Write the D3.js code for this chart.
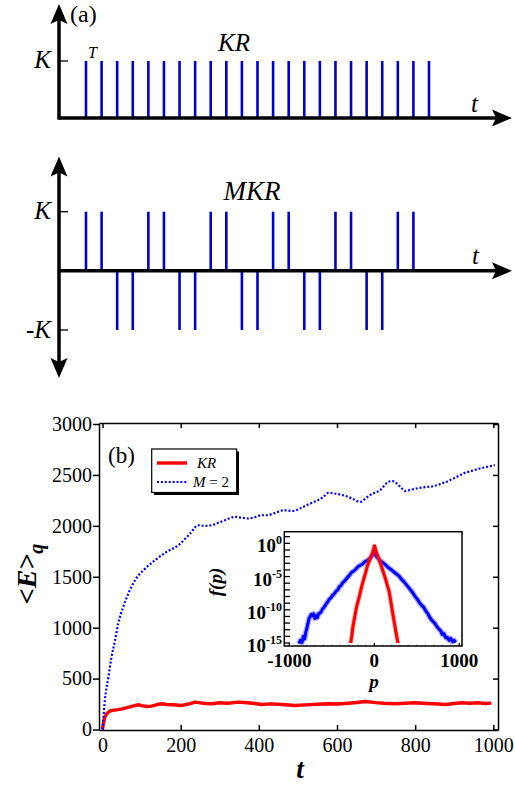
<!DOCTYPE html>
<html>
<head>
<meta charset="utf-8">
<script src="https://cdn.jsdelivr.net/npm/d3@7"></script>
<style>
  body { margin: 0; background: #fff; }
</style>
</head>
<body>
<script>
'use strict';

// ---- panel (a): kick sequences ----
const kickIndex = [1, 2, 3, 4, 5, 6, 7, 8, 9, 10, 11, 12, 13, 14, 15, 16, 17, 18, 19, 20, 21, 22, 23];
const mkrSigns = [1, 1, -1, -1, 1, 1, -1, -1, 1, 1, -1, -1, 1, 1, -1, -1, 1, 1, -1, -1, 1, 1];

// ---- panel (b): <E>_q versus t ----
const krT = [0, 3, 6, 10, 15, 20, 30, 40, 50, 60, 70, 80, 92, 100, 113, 125, 140, 151, 165, 180, 203, 220, 237, 250, 265, 279, 300, 320, 348, 370, 390, 407, 430, 460, 492, 520, 550, 578, 600, 630, 650, 672, 700, 720, 748, 775, 800, 830, 860, 877, 900, 919, 940, 960, 980, 995];
const krE = [5, 70, 121, 150, 170, 182, 190, 195, 203, 212, 222, 232, 243, 235, 226, 230, 245, 253, 245, 243, 236, 250, 269, 262, 255, 253, 262, 258, 269, 262, 255, 246, 252, 245, 236, 242, 248, 253, 250, 258, 265, 275, 264, 258, 253, 258, 262, 255, 250, 246, 255, 262, 258, 262, 255, 259];

const mkrT = [0, 6, 15, 23, 32, 40, 53, 66, 83, 109, 134, 164, 194, 224, 245, 262, 279, 296, 313, 339, 356, 373, 390, 407, 420, 440, 463, 488, 510, 531, 550, 565, 578, 597, 616, 638, 659, 672, 684, 697, 710, 720, 731, 742, 753, 763, 774, 790, 804, 825, 846, 868, 889, 906, 923, 945, 966, 985, 1004];
const mkrE = [0, 285, 515, 711, 875, 1039, 1203, 1334, 1465, 1580, 1662, 1744, 1809, 1924, 2006, 2000, 2006, 2030, 2055, 2088, 2080, 2072, 2085, 2104, 2104, 2125, 2153, 2146, 2180, 2219, 2250, 2284, 2324, 2315, 2301, 2270, 2235, 2265, 2301, 2325, 2350, 2390, 2432, 2440, 2416, 2380, 2343, 2355, 2367, 2380, 2389, 2415, 2448, 2480, 2514, 2540, 2563, 2580, 2596];

const mainXTicks = [0, 200, 400, 600, 800, 1000];
const mainYTicks = [0, 500, 1000, 1500, 2000, 2500, 3000];

// ---- inset: f(p), stored as log10 f ----
const blueP = [-886, -870, -850, -835, -820, -805, -795, -788, -778, -768, -755, -742, -729, -712, -700, -685, -671, -655, -631, -610, -590, -570, -553, -530, -510, -490, -474, -450, -430, -410, -395, -370, -345, -320, -298, -270, -245, -219, -190, -165, -141, -115, -90, -62, -35, -15, 0, 15, 40, 75, 100, 130, 160, 193, 220, 250, 290, 320, 350, 388, 420, 450, 480, 506, 530, 555, 580, 605, 630, 655, 682, 710, 740, 760, 781, 800, 820, 840, 859, 880, 900, 920, 940, 958];
const blueLogF = [-15.1, -14.6, -14.9, -14.0, -14.4, -13.3, -12.9, -12.4, -11.9, -11.3, -11.0, -10.7, -10.9, -10.6, -11.3, -10.9, -11.2, -10.6, -10.4, -9.9, -9.6, -9.2, -8.9, -8.4, -8.2, -7.8, -7.65, -7.2, -7.0, -6.5, -6.4, -5.9, -5.6, -5.2, -4.9, -4.4, -4.2, -3.9, -3.5, -3.3, -3.15, -2.8, -2.65, -2.4, -2.0, -1.7, -1.4, -1.8, -2.2, -2.65, -2.9, -3.2, -3.6, -3.9, -4.2, -4.5, -4.9, -5.4, -5.8, -6.4, -6.9, -7.4, -8.0, -8.4, -8.9, -9.3, -9.6, -10.15, -10.6, -11.2, -11.65, -12.0, -12.6, -12.9, -13.15, -13.7, -13.6, -14.2, -14.15, -14.6, -14.3, -14.8, -14.6, -14.9];
const redP = [-278, -265, -252, -239, -225, -212, -200, -180, -160, -141, -120, -100, -82, -60, -35, -15, 0, 5, 20, 35, 55, 75, 95, 114, 135, 155, 173, 190, 212, 230, 242, 252, 265, 279];
const redLogF = [-15.0, -13.9, -12.6, -11.65, -10.7, -9.8, -9.15, -8.2, -7.1, -6.15, -5.2, -4.3, -3.4, -2.7, -1.9, -1.2, -0.4, -0.4, -1.2, -1.7, -2.4, -3.1, -3.9, -4.65, -5.5, -6.4, -7.15, -8.4, -10.15, -11.5, -12.4, -13.15, -14.1, -15.0];
const insetXTicks = [-1000, 0, 1000];
const insetYExp = [0, -5, -10, -15];

const serif = 'Liberation Serif';
const kickBlue = '#0000c8';

const svg = d3.select('body').append('svg')
  .attr('width', 515)
  .attr('height', 791)
  .attr('font-family', serif)
  .style('display', 'block');

// arrow head with a slightly notched back; dir in degrees (0 = right)
function arrowHead(g, x, y, dir) {
  g.append('path')
    .attr('d', 'M0,0 L-20,-8.5 L-16,0 L-20,8.5 Z')
    .attr('transform', `translate(${x},${y}) rotate(${dir})`)
    .attr('fill', '#000');
}

// ================= panel (a) top: KR =================
const xKick = d3.scaleLinear().domain([1, 23]).range([86, 429]);
const yKR = d3.scaleLinear().domain([0, 1]).range([118, 61]);

const gKR = svg.append('g');
gKR.selectAll('.kick')
  .data(kickIndex)
  .enter().append('line')
    .attr('x1', d => xKick(d)).attr('x2', d => xKick(d))
    .attr('y1', yKR(0)).attr('y2', yKR(1))
    .attr('stroke', kickBlue).attr('stroke-width', 2.6);

gKR.append('line').attr('x1', 59).attr('x2', 496).attr('y1', yKR(0)).attr('y2', yKR(0))
  .attr('stroke', '#000').attr('stroke-width', 3.5);
gKR.append('line').attr('x1', 59).attr('x2', 59).attr('y1', yKR(0) + 1.7).attr('y2', 20)
  .attr('stroke', '#000').attr('stroke-width', 3.5);
arrowHead(gKR, 512, yKR(0), 0);
arrowHead(gKR, 59, 4, -90);
gKR.append('line').attr('x1', 59).attr('x2', 68).attr('y1', yKR(1)).attr('y2', yKR(1))
  .attr('stroke', '#000').attr('stroke-width', 1.3);

gKR.append('text').attr('x', 70).attr('y', 22).style('font-size', '24px').text('(a)');
gKR.append('text').attr('x', 51).attr('y', 68).attr('text-anchor', 'end')
  .style('font-size', '25px').style('font-style', 'italic').text('K');
gKR.append('text').attr('x', 88).attr('y', 58)
  .style('font-size', '16px').style('font-style', 'italic').text('T');
gKR.append('text').attr('x', 218).attr('y', 51)
  .style('font-size', '25px').style('font-style', 'italic').text('KR');
gKR.append('text').attr('x', 471).attr('y', 112)
  .style('font-size', '25px').style('font-style', 'italic').text('t');

// ================= panel (a) bottom: MKR =================
const yMKR = d3.scaleLinear().domain([-1, 1]).range([330, 211.7]);
const gM = svg.append('g');

gM.selectAll('.kick')
  .data(mkrSigns)
  .enter().append('line')
    .attr('x1', (d, i) => xKick(kickIndex[i])).attr('x2', (d, i) => xKick(kickIndex[i]))
    .attr('y1', yMKR(0)).attr('y2', d => yMKR(d))
    .attr('stroke', kickBlue).attr('stroke-width', 2.6);

gM.append('line').attr('x1', 59).attr('x2', 496).attr('y1', yMKR(0)).attr('y2', yMKR(0))
  .attr('stroke', '#000').attr('stroke-width', 3.5);
gM.append('line').attr('x1', 59).attr('x2', 59).attr('y1', 172).attr('y2', 362)
  .attr('stroke', '#000').attr('stroke-width', 3.5);
arrowHead(gM, 512, yMKR(0), 0);
arrowHead(gM, 59, 156.5, -90);
arrowHead(gM, 59, 378, 90);
[1, -1].forEach(v => {
  gM.append('line').attr('x1', 59).attr('x2', 68).attr('y1', yMKR(v)).attr('y2', yMKR(v))
    .attr('stroke', '#000').attr('stroke-width', 1.3);
});

gM.append('text').attr('x', 51).attr('y', 219).attr('text-anchor', 'end')
  .style('font-size', '25px').style('font-style', 'italic').text('K');
gM.append('text').attr('x', 51).attr('y', 338).attr('text-anchor', 'end')
  .style('font-size', '25px').style('font-style', 'italic').text('-K');
gM.append('text').attr('x', 252).attr('y', 200).attr('text-anchor', 'middle')
  .style('font-size', '27px').style('font-style', 'italic').text('MKR');
gM.append('text').attr('x', 472).attr('y', 264)
  .style('font-size', '25px').style('font-style', 'italic').text('t');

// ================= panel (b) =================
const xMain = d3.scaleLinear().domain([-9, 1012]).range([99, 498]);
const yMain = d3.scaleLinear().domain([-5, 3010]).range([730, 423]);
const gB = svg.append('g');

function styleAxis(g) {
  g.attr('font-family', serif).attr('font-size', null);
  g.select('.domain').attr('stroke-width', 1.5);
  g.selectAll('.tick line').attr('stroke-width', 1.5);
  g.selectAll('.tick text').style('font-size', '20px').attr('fill', '#000');
}

gB.append('g').attr('transform', 'translate(0,730)')
  .call(d3.axisBottom(xMain).tickValues(mainXTicks).tickFormat(d3.format('d'))
    .tickSizeInner(-5).tickSizeOuter(0).tickPadding(8))
  .call(styleAxis);
gB.append('g').attr('transform', 'translate(0,423)')
  .call(d3.axisTop(xMain).tickValues(mainXTicks).tickSizeInner(-5).tickSizeOuter(0).tickFormat(''))
  .call(styleAxis);
gB.append('g').attr('transform', 'translate(99,0)')
  .call(d3.axisLeft(yMain).tickValues(mainYTicks).tickFormat(d3.format('d'))
    .tickSizeInner(6).tickSizeOuter(0).tickPadding(1))
  .call(styleAxis);
gB.append('g').attr('transform', 'translate(498,0)')
  .call(d3.axisRight(yMain).tickValues(mainYTicks).tickSizeInner(-5).tickSizeOuter(0).tickFormat(''))
  .call(styleAxis);

const lineMain = d3.line()
  .x(d => xMain(d[0]))
  .y(d => yMain(d[1]));

gB.append('path')
  .datum(krT.map((t, i) => [t, krE[i]]))
  .attr('d', lineMain)
  .attr('fill', 'none').attr('stroke', '#ff0000').attr('stroke-width', 3.4)
  .attr('stroke-linejoin', 'round');

gB.append('path')
  .datum(mkrT.map((t, i) => [t, mkrE[i]]))
  .attr('d', lineMain.curve(d3.curveMonotoneX))
  .attr('fill', 'none').attr('stroke', '#0000ff').attr('stroke-width', 2.2)
  .attr('stroke-dasharray', '2,1.9');

gB.append('text').attr('x', 108).attr('y', 463).style('font-size', '23px').text('(b)');

// legend
const lg = gB.append('g');
lg.append('rect').attr('x', 154).attr('y', 451.5).attr('width', 85).attr('height', 43.5).attr('fill', '#000');
lg.append('rect').attr('x', 151.7).attr('y', 449).attr('width', 85).attr('height', 43.5)
  .attr('fill', '#fff').attr('stroke', '#000').attr('stroke-width', 1.2);
lg.append('line').attr('x1', 157).attr('x2', 187).attr('y1', 463).attr('y2', 463)
  .attr('stroke', '#ff0000').attr('stroke-width', 3.4);
lg.append('line').attr('x1', 157).attr('x2', 187).attr('y1', 482).attr('y2', 482)
  .attr('stroke', '#0000ff').attr('stroke-width', 2.2).attr('stroke-dasharray', '2,1.9');
lg.append('text').attr('x', 197).attr('y', 468).style('font-size', '15px').style('font-style', 'italic').text('KR');
const mt = lg.append('text').attr('x', 193).attr('y', 487).style('font-size', '15px');
mt.append('tspan').style('font-style', 'italic').text('M');
mt.append('tspan').text(' = 2');

// axis titles
gB.append('text').attr('x', 300).attr('y', 778).attr('text-anchor', 'middle')
  .style('font-size', '27px').style('font-weight', 'bold').style('font-style', 'italic').text('t');
const yt = gB.append('text').attr('transform', 'translate(36,574) rotate(-90)').attr('text-anchor', 'middle')
  .style('font-size', '28px').style('font-weight', 'bold').style('font-style', 'italic');
yt.append('tspan').text('<E>');
yt.append('tspan').attr('dy', 7).style('font-size', '20px').text('q');

// ================= inset =================
const xIn = d3.scaleLinear().domain([-1059, 1032]).range([284.3, 462]);
const yIn = d3.scaleLog().domain([Math.pow(10, -15.45), Math.pow(10, 1.75)]).range([646, 531.7]);
const gI = svg.append('g');

gI.append('rect').attr('x', 284.3).attr('y', 531.7).attr('width', 177.7).attr('height', 114.3)
  .attr('fill', '#fff');

const lineIn = d3.line()
  .x(d => xIn(d[0]))
  .y(d => yIn(Math.pow(10, d[1])));

const blueData = blueP.map((p, i) => [p, blueLogF[i]]);
const redData = redP.map((p, i) => [p, redLogF[i]]);

gI.append('path').datum(blueData).attr('d', lineIn)
  .attr('fill', 'none').attr('stroke', '#5a5aff').attr('stroke-width', 5.5).attr('stroke-opacity', 0.5)
  .attr('stroke-linejoin', 'round');
gI.append('path').datum(blueData).attr('d', lineIn)
  .attr('fill', 'none').attr('stroke', '#0000ff').attr('stroke-width', 3)
  .attr('stroke-linejoin', 'round');
gI.append('path').datum(redData).attr('d', lineIn)
  .attr('fill', 'none').attr('stroke', '#ff4040').attr('stroke-width', 4.5).attr('stroke-opacity', 0.5)
  .attr('stroke-linejoin', 'round');
gI.append('path').datum(redData).attr('d', lineIn)
  .attr('fill', 'none').attr('stroke', '#ff0000').attr('stroke-width', 3)
  .attr('stroke-linejoin', 'round');

// decade ticks on the left, inward
const decades = d3.range(1, -16, -1);
gI.selectAll('.ytick')
  .data(decades)
  .enter().append('line')
    .attr('x1', 284.3).attr('x2', 290)
    .attr('y1', d => yIn(Math.pow(10, d))).attr('y2', d => yIn(Math.pow(10, d)))
    .attr('stroke', '#000').attr('stroke-width', 1.3);

// small bottom ticks
gI.selectAll('.xtick')
  .data(d3.range(-1000, 1001, 100))
  .enter().append('line')
    .attr('x1', d => xIn(d)).attr('x2', d => xIn(d))
    .attr('y1', 646).attr('y2', d => 646 - (d % 1000 === 0 ? 3 : 1.5))
    .attr('stroke', d => d % 1000 === 0 ? '#000' : '#999').attr('stroke-width', 1.2);

gI.append('rect').attr('x', 284.3).attr('y', 531.7).attr('width', 177.7).attr('height', 114.3)
  .attr('fill', 'none').attr('stroke', '#000').attr('stroke-width', 1.5);

gI.selectAll('.xlab')
  .data(insetXTicks)
  .enter().append('text')
    .attr('x', d => xIn(d)).attr('y', 667).attr('text-anchor', 'middle')
    .style('font-size', '19px').style('font-weight', 'bold')
    .text(d => d);

const ylab = gI.selectAll('.ylab')
  .data(insetYExp)
  .enter().append('text')
    .attr('x', 282).attr('y', d => yIn(Math.pow(10, d)) + 9).attr('text-anchor', 'end')
    .style('font-size', '19px').style('font-weight', 'bold');
ylab.append('tspan').text('10');
ylab.append('tspan').attr('dy', -8).style('font-size', '12px').text(d => d);

gI.append('text').attr('x', 374).attr('y', 688).attr('text-anchor', 'middle')
  .style('font-size', '19px').style('font-weight', 'bold').style('font-style', 'italic').text('p');
gI.append('text').attr('transform', 'translate(222,582) rotate(-90)').attr('text-anchor', 'middle')
  .style('font-size', '19px').style('font-weight', 'bold').style('font-style', 'italic').text('f(p)');
</script>
</body>
</html>
